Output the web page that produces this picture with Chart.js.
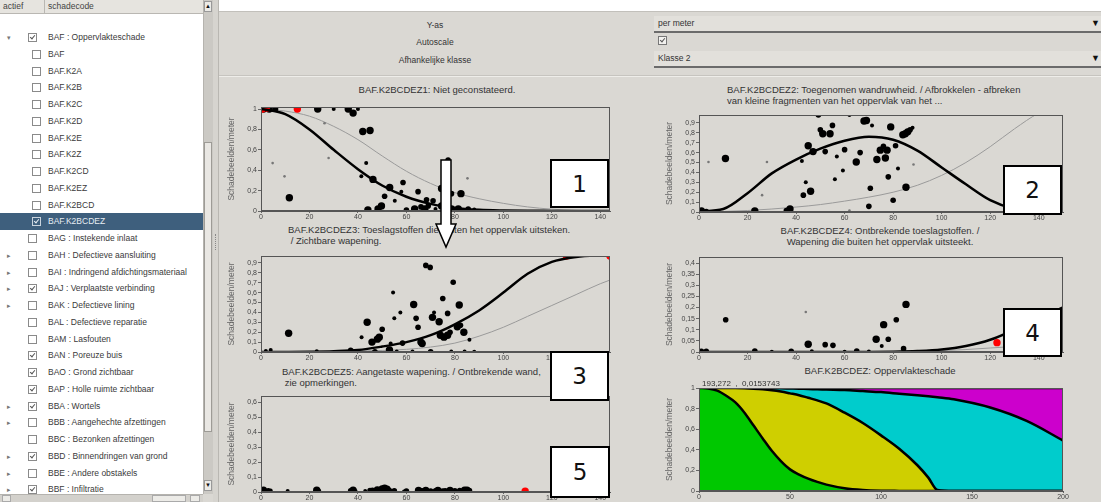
<!DOCTYPE html>
<html>
<head>
<meta charset="utf-8">
<script src="https://cdn.jsdelivr.net/npm/chart.js@4.4.1/dist/chart.umd.min.js"></script>
<style>
html,body{margin:0;padding:0}
body{width:1101px;height:502px;position:relative;overflow:hidden;background:#dad8d3;font-family:'Liberation Sans',Arial,sans-serif;color:#333}
.abs{position:absolute}
#tree{left:0;top:0;width:203px;height:494px;background:#fff;overflow:hidden}
#tree .hdr{position:absolute;left:0;top:0;width:203px;height:13px;background:#e6e4df;border-bottom:1px solid #b9b7b2;font-size:8.5px;line-height:13px;color:#444}
.row{position:absolute;left:0;width:203px;height:17px;font-size:8.5px;line-height:17px;white-space:nowrap;color:#3a3a3a}
.row.sel{background:#3e5f7d;color:#e8eef4}
.row .txt{position:absolute;left:48px;top:0}
.row .exp{position:absolute;left:7px;top:0;font-size:7px;color:#777}
.cb{position:absolute;width:7px;height:7px;border:1px solid #8a8a8a;background:#fff;top:4px}
.sel .cb{background:#3e5f7d;border-color:#c9d3dd}
.cb.on::after{content:'';position:absolute;left:2px;top:0;width:2px;height:4px;border:solid #555;border-width:0 1px 1px 0;transform:rotate(40deg)}
.sel .cb.on::after{border-color:#e8eef4}
.lab{font-size:8.5px;text-align:center;color:#333;line-height:10px}
.field{left:654px;width:447px;background:#e2e0db;border-bottom:2px solid #6b6b6b;font-size:8.5px;line-height:15px;color:#333;padding-left:4px;box-sizing:border-box}
.field .dd{position:absolute;right:1px;top:0;font-size:9px;color:#111}
.ttl{font-size:9.5px;line-height:10.5px;color:#333;white-space:nowrap}
.box{position:absolute;background:#fff;border:2px solid #000;box-sizing:border-box;font-family:'DejaVu Sans',sans-serif;font-size:23px;color:#111;display:flex;align-items:center;justify-content:center;z-index:5}
canvas{position:absolute}
</style>
</head>
<body>

<!-- left tree panel -->
<div id="tree" class="abs">
  <div class="hdr"><span style="position:absolute;left:3px">actief</span><span style="position:absolute;left:44px;top:0;width:1px;height:13px;background:#b9b7b2"></span><span style="position:absolute;left:48px">schadecode</span></div>
</div>
<!-- vertical scrollbar -->
<div class="abs" style="left:203px;top:0;width:10px;height:494px;background:#cbc9c4;border-left:1px solid #b5b3ae;box-sizing:border-box"></div>
<div class="abs" style="left:204px;top:1px;width:8px;height:11px;background:#ecebe7;border:1px solid #999;box-sizing:border-box;font-size:6px;line-height:9px;text-align:center;color:#111">&#9650;</div>
<div class="abs" style="left:204px;top:142px;width:8px;height:290px;background:#e9e7e3;border:1px solid #9d9b96;box-sizing:border-box"></div>
<div class="abs" style="left:204px;top:480px;width:8px;height:11px;background:#ecebe7;border:1px solid #999;box-sizing:border-box;font-size:6px;line-height:9px;text-align:center;color:#111">&#9660;</div>
<!-- horizontal scrollbar -->
<div class="abs" style="left:0;top:494px;width:203px;height:8px;background:#d3d1cc;border-top:1px solid #b5b3ae;box-sizing:border-box"></div>
<div class="abs" style="left:2px;top:495px;width:9px;height:7px;background:#ecebe7;border:1px solid #aaa;box-sizing:border-box"></div>
<div class="abs" style="left:152px;top:495px;width:34px;height:7px;background:#ecebe7;border:1px solid #aaa;box-sizing:border-box"></div>
<div class="abs" style="left:190px;top:495px;width:10px;height:7px;background:#ecebe7;border:1px solid #aaa;box-sizing:border-box"></div>
<!-- splitter -->
<div class="abs" style="left:213px;top:0;width:6px;height:502px;background:#d6d4cf;border-right:1px solid #b9b7b2;box-sizing:border-box"></div>
<div class="abs" style="left:215px;top:234px;width:1px;height:16px;border-left:1px dotted #888"></div>

<!-- settings strip -->
<div class="abs" style="left:219px;top:0;width:882px;height:11px;background:#fff;border-bottom:1px solid #c2c0bb"></div>
<div class="abs lab" style="left:335px;top:20px;width:200px">Y-as</div>
<div class="abs lab" style="left:335px;top:37px;width:200px">Autoscale</div>
<div class="abs lab" style="left:335px;top:55px;width:200px">Afhankelijke klasse</div>
<div class="abs field" style="top:16px;height:17px">per meter<span class="dd">&#9660;</span></div>
<div class="abs" style="left:658px;top:36px;width:9px;height:9px;border:1px solid #777;background:#f2f1ee;box-sizing:border-box"><div class="cb on" style="left:0;top:0;border:none;background:none"></div></div>
<div class="abs field" style="top:51px;height:17px">Klasse 2<span class="dd">&#9660;</span></div>
<div class="abs" style="left:219px;top:75px;width:882px;height:1px;background:#c6c4bf"></div>
<div class="abs" style="left:219px;top:76px;width:882px;height:1px;background:#eeede9"></div>

<!-- chart titles -->
<div class="abs ttl" style="left:237px;top:85px;width:400px;text-align:center">BAF.K2BCDEZ1: Niet geconstateerd.</div>
<div class="abs ttl" style="left:727px;top:85px">BAF.K2BCDEZ2: Toegenomen wandruwheid. / Afbrokkelen - afbreken<br>van kleine fragmenten van het oppervlak van het ...</div>
<div class="abs ttl" style="left:288px;top:225px">BAF.K2BCDEZ3: Toeslagstoffen die buiten het oppervlak uitsteken.<br>&nbsp;/ Zichtbare wapening.</div>
<div class="abs ttl" style="left:680px;top:226px;width:400px;text-align:center">BAF.K2BCDEZ4: Ontbrekende toeslagstoffen. /<br>Wapening die buiten het oppervlak uitsteekt.</div>
<div class="abs ttl" style="left:282px;top:367px">BAF.K2BCDEZ5: Aangetaste wapening. / Ontbrekende wand,<br>&nbsp;zie opmerkingen.</div>
<div class="abs ttl" style="left:680px;top:366px;width:400px;text-align:center">BAF.K2BCDEZ: Oppervlakteschade</div>
<div class="abs" style="left:702px;top:379px;font-size:8px;line-height:9px;color:#333;z-index:4;white-space:pre">193,272  ,  0,0153743</div>

<script>
// ---------- tree of damage codes ----------
const treeRows = [
  ['BAF : Oppervlakteschade', 0, true, 'open'],
  ['BAF', 1, false], ['BAF.K2A', 1, false], ['BAF.K2B', 1, false], ['BAF.K2C', 1, false],
  ['BAF.K2D', 1, false], ['BAF.K2E', 1, false], ['BAF.K2Z', 1, false], ['BAF.K2CD', 1, false],
  ['BAF.K2EZ', 1, false], ['BAF.K2BCD', 1, false], ['BAF.K2BCDEZ', 1, true, null, true],
  ['BAG : Instekende inlaat', 0, false],
  ['BAH : Defectieve aansluiting', 0, false, 'closed'],
  ['BAI : Indringend afdichtingsmateriaal', 0, false, 'closed'],
  ['BAJ : Verplaatste verbinding', 0, true, 'closed'],
  ['BAK : Defectieve lining', 0, false, 'closed'],
  ['BAL : Defectieve reparatie', 0, false],
  ['BAM : Lasfouten', 0, false],
  ['BAN : Poreuze buis', 0, true],
  ['BAO : Grond zichtbaar', 0, true],
  ['BAP : Holle ruimte zichtbaar', 0, true],
  ['BBA : Wortels', 0, true, 'closed'],
  ['BBB : Aangehechte afzettingen', 0, false, 'closed'],
  ['BBC : Bezonken afzettingen', 0, false],
  ['BBD : Binnendringen van grond', 0, true, 'closed'],
  ['BBE : Andere obstakels', 0, false, 'closed'],
  ['BBF : Infiltratie', 0, true, 'closed']
];
const tree = document.getElementById('tree');
treeRows.forEach((r, i) => {
  const [label, level, checked, exp, selected] = r;
  const row = document.createElement('div');
  row.className = 'row' + (selected ? ' sel' : '');
  row.style.top = (29 + i * 16.75).toFixed(1) + 'px';
  let html = '';
  if (exp) html += '<span class="exp">' + (exp === 'open' ? '&#9662;' : '&#9656;') + '</span>';
  html += '<span class="cb' + (checked ? ' on' : '') + '" style="left:' + (level ? 32 : 28) + 'px"></span>';
  html += '<span class="txt">' + label + '</span>';
  row.innerHTML = html;
  tree.appendChild(row);
});

// ---------- model data ----------
// ages at which the fitted curves are tabulated
const fitAges = [0, 10, 20, 30, 40, 50, 60, 70, 80, 90, 100, 110, 120, 130, 140, 150];

// class 1: Niet geconstateerd
const c1Fit   = [1.0, 0.95, 0.80, 0.60, 0.41, 0.25, 0.14, 0.07, 0.03, 0.012, 0.005, 0.002, 0.001, 0, 0, 0];
const c1Prior = [1.0, 0.98, 0.93, 0.83, 0.70, 0.54, 0.39, 0.27, 0.18, 0.12, 0.075, 0.04, 0.018, 0.006, 0.002, 0];
const c1Age = [1, 3.4, 6, 23.4, 30, 36, 38, 40, 42, 45, 43.4, 27.9, 4.8, 9.7, 26.2, 11.7, 46.2, 41.4, 53.1, 58.6,
  57.9, 51, 44.1, 49.7, 48.3, 55.2, 64.8, 63.4, 67.6, 68.3, 71, 74.5, 74.5, 78.6, 77.2, 78.6, 82.5, 81.4, 85.5, 85.2,
  69, 66, 60, 88, 72];
const c1Val = [1, 1, 1, 1, 1, 1, 0.96, 1, 0.78, 0.79, 0.47, 0.52, 0.47, 0.34, 0.86, 0.13, 0.31, 0.34, 0.23, 0.28,
  0.19, 0.145, 0.01, 0.05, 0.02, 0.10, 0.19, 0.02, 0.02, 0.11, 0.10, 0.22, 0.05, 0.02, 0.50, 0.17, 0.17, 0.02, 0.02, 0.32,
  0.05, 0.04, 0.01, 0.015, 0.02];
const c1Wt = [4, 4, 3, 4, 2, 4, 4, 2, 4, 4, 2, 1, 1, 1, 1, 4, 4, 2, 4, 3,
  2, 3, 4, 4, 4, 2, 3, 4, 4, 3, 3, 4, 4, 4, 3, 3, 4, 4, 3, 1,
  3, 3, 3, 2, 2];
const c1RedAge = [0.5, 2.5, 15];
const c1RedVal = [1, 1, 1];
const c1RedWt = [4, 3, 4];

// class 2: Toegenomen wandruwheid
const c2Fit   = [0.005, 0.03, 0.19, 0.39, 0.53, 0.64, 0.72, 0.76, 0.73, 0.62, 0.45, 0.28, 0.12, 0.03, 0, 0];
const c2Prior = [0, 0.005, 0.015, 0.03, 0.05, 0.075, 0.11, 0.15, 0.20, 0.27, 0.37, 0.50, 0.66, 0.84, 1.0, 1.1];
const c2Age = [10.9, 3.9, 28, 26, 1, 3, 23, 37.5, 36, 42.4, 45, 47, 44, 43, 46, 49.2, 50, 51, 52, 54,
  55, 56.8, 56, 59.3, 60, 62, 64.8, 66.4, 68, 69, 71.3, 70.6, 70, 73.3, 74.7, 76, 76.8, 77.5, 78, 79,
  81, 80, 82, 84, 85, 86, 87, 88, 85.3, 88.4, 62];
const c2Val = [0.54, 0.505, 0.505, 0.17, 0.01, 0.005, 0.01, 0.03, 0.015, 0.515, 0.67, 0.61, 0.30, 0.17, 0.21, 0.98, 0.83, 0.79, 0.61, 0.79,
  0.875, 0.56, 0.33, 0.42, 0.63, 0.98, 0.505, 0.60, 0.92, 0.925, 0.875, 0.24, 0.057, 0.53, 0.625, 0.665, 0.545, 0.625, 0.355, 0.86,
  0.67, 0.118, 0.44, 0.78, 0.79, 0.81, 0.83, 0.85, 0.25, 0.48, 0.015];
const c2Wt = [4, 1, 1, 1, 4, 3, 4, 4, 3, 2, 4, 4, 2, 3, 4, 3, 3, 4, 3, 4,
  3, 2, 2, 2, 3, 2, 4, 3, 4, 4, 2, 3, 3, 4, 4, 3, 4, 4, 3, 4,
  3, 3, 2, 4, 4, 4, 3, 2, 4, 1, 1];

// class 3: Toeslagstoffen die buiten het oppervlak uitsteken
const c3Fit   = [0, 0.001, 0.003, 0.008, 0.02, 0.055, 0.10, 0.17, 0.28, 0.42, 0.60, 0.79, 0.91, 0.96, 0.98, 0.99];
const c3Prior = [0, 0.001, 0.002, 0.005, 0.01, 0.016, 0.027, 0.05, 0.09, 0.16, 0.25, 0.36, 0.47, 0.58, 0.69, 0.78];
const c3Age = [11.4, 4, 2, 23, 37, 43.8, 45.8, 41.5, 48.8, 50, 48, 53, 53.5, 55, 57.5, 54.5, 58.4, 63, 64, 64.8,
  66, 66.5, 68, 69.8, 70.75, 71.4, 73.5, 75, 77, 74, 75.5, 77, 78, 79.3, 81, 81.8, 82.3, 83.7, 86, 62,
  40, 47, 56, 62.5, 70, 78.5, 84, 88];
const c3Val = [0.19, 0.02, 0.01, 0.007, 0.017, 0.30, 0.10, 0.15, 0.15, 0.23, 0.13, 0.02, 0.085, 0.34, 0.40, 0.60, 0.09, 0.48, 0.34, 0.25,
  0.10, 0.085, 0.875, 0.855, 0.35, 0.40, 0.305, 0.54, 0.39, 0.17, 0.15, 0.17, 0.20, 0.705, 0.255, 0.475, 0.27, 0.20, 0.125, 0.98,
  0.005, 0.003, 0.005, 0.004, 0.003, 0.005, 0.004, 0.003];
const c3Wt = [4, 2, 2, 2, 3, 4, 4, 2, 4, 3, 4, 4, 2, 2, 2, 2, 3, 4, 3, 3,
  4, 4, 3, 3, 4, 2, 4, 3, 3, 4, 4, 4, 3, 3, 4, 4, 3, 4, 2, 2,
  2, 3, 2, 2, 3, 2, 2, 2];
const c3RedAge = [126, 144];
const c3RedVal = [0.97, 0.97];
const c3RedWt = [4, 4];

// class 4: Ontbrekende toeslagstoffen
const c4Fit   = [0, 0, 0, 0, 0, 0, 0, 0, 0.001, 0.004, 0.011, 0.027, 0.055, 0.10, 0.15, 0.20];
const c4Prior = [0, 0, 0, 0, 0, 0, 0, 0, 0.001, 0.003, 0.006, 0.011, 0.018, 0.025, 0.032, 0.04];
const c4Age = [11, 44, 45, 52, 55.2, 73, 76.1, 75.3, 78, 81.3, 85.3, 84.3, 1, 3, 23, 38, 65, 46.5, 30, 60, 70];
const c4Val = [0.145, 0.18, 0.035, 0.033, 0.03, 0.057, 0.123, 0.027, 0.057, 0.145, 0.214, 0.015,
  0.003, 0.003, 0.004, 0.003, 0.004, 0.003, 0.001, 0.001, 0.002];
const c4Wt = [3, 1, 4, 3, 3, 4, 4, 2, 3, 3, 4, 3, 3, 3, 3, 3, 3, 2, 2, 2, 2];
const c4RedAge = [122.8, 150];
const c4RedVal = [0.042, 0.18];
const c4RedWt = [4, 4];

// class 5: Aangetaste wapening
const c5Age = [1, 3, 4, 11, 23, 24, 37, 38, 39, 43, 45, 46, 48, 50, 51, 52, 53, 55, 59, 60,
  65, 66, 67, 68, 70, 72, 73, 75, 76, 78, 80, 82, 84, 85, 86];
const c5Val = [0.012, 0.008, 0.01, 0.006, 0.012, 0.008, 0.008, 0.012, 0.006, 0.006, 0.01, 0.012, 0.014, 0.02, 0.025, 0.018, 0.01, 0.008, 0.004, 0.006,
  0.01, 0.008, 0.008, 0.01, 0.006, 0.008, 0.01, 0.006, 0.008, 0.01, 0.008, 0.01, 0.012, 0.012, 0.01];
const c5Wt = [4, 3, 2, 2, 4, 2, 3, 4, 2, 2, 3, 3, 4, 4, 4, 4, 3, 3, 2, 3,
  4, 3, 3, 4, 3, 3, 4, 3, 3, 4, 3, 3, 4, 4, 3];
const c5RedAge = [109];
const c5RedVal = [0.005];
const c5RedWt = [4];
const c5RedFitAge = [104, 150];
const c5RedFit = [0, 0];

// class distribution over age (cumulative share up to and including each class)
const distAges = [0, 5, 10, 15, 20, 25, 30, 35, 40, 45, 50, 55, 60, 65, 70, 80, 90, 100, 110, 120, 126, 131, 140, 160, 180, 200];
const cumK1 = [1.0, 0.995, 0.975, 0.925, 0.86, 0.76, 0.635, 0.51, 0.39, 0.29, 0.21, 0.16, 0.12, 0.088, 0.062, 0.027, 0.01, 0.003, 0.001, 0, 0, 0, 0, 0, 0, 0];
const cumK2 = [1, 1, 1, 1, 0.999, 0.997, 0.993, 0.987, 0.978, 0.965, 0.948, 0.93, 0.905, 0.88, 0.85, 0.76, 0.66, 0.54, 0.41, 0.25, 0.13, 0.01, 0, 0, 0, 0];
const cumK3 = [1, 1, 1, 1, 1, 1, 0.999, 0.999, 0.998, 0.997, 0.995, 0.993, 0.99, 0.988, 0.985, 0.98, 0.97, 0.96, 0.945, 0.93, 0.92, 0.91, 0.89, 0.81, 0.68, 0.49];
const cumK4 = [1, 1, 1, 1, 1, 1, 1, 1, 1, 1, 1, 1, 1, 1, 1, 1, 1, 1, 1, 1, 1, 1, 1, 1, 1, 1];

// ---------- drawing helpers ----------
const RADIUS = {1: 1.3, 2: 2.0, 3: 2.8, 4: 3.7};
const pts = (xs, ys) => xs.map((x, i) => ({x, y: ys[i]}));
const comma = v => String(Math.round(v * 1000) / 1000).replace('.', ',');

Chart.defaults.font.family = "'Liberation Sans', Arial, sans-serif";
Chart.defaults.color = '#444';

const framePlugin = {
  id: 'frame',
  afterDatasetsDraw(chart) {
    const a = chart.chartArea, ctx = chart.ctx;
    ctx.save();
    ctx.strokeStyle = '#555';
    ctx.lineWidth = 1;
    ctx.strokeRect(Math.round(a.left) + 0.5, Math.round(a.top) + 0.5, Math.round(a.right - a.left) - 1, Math.round(a.bottom - a.top) - 1);
    ctx.restore();
  }
};

function mount(g) {
  const c = document.createElement('canvas');
  const w = g.R - g.L + 52, h = g.B - g.T + 22;
  c.width = w; c.height = h;
  c.style.left = (g.L - 42) + 'px';
  c.style.top = (g.T - 8) + 'px';
  c.style.width = w + 'px';
  c.style.height = h + 'px';
  document.body.appendChild(c);
  return c;
}

function options(g) {
  return {
    responsive: false, animation: false, devicePixelRatio: 1,
    layout: {padding: {left: 0, top: 8, right: 10, bottom: 0}},
    plugins: {legend: {display: false}, tooltip: {enabled: false}, title: {display: false}},
    scales: {
      x: {
        type: 'linear', min: 0, max: g.xmax,
        afterFit: s => { s.height = 14; },
        ticks: {stepSize: g.xstep, includeBounds: false, font: {size: 7}, color: '#444', padding: 0, maxRotation: 0, autoSkip: false, callback: v => comma(v)},
        grid: {drawOnChartArea: false, tickLength: 2, color: '#666'},
        border: {color: '#555'}
      },
      y: {
        type: 'linear', min: 0, max: g.ymax,
        afterFit: s => { s.width = 42; },
        ticks: {stepSize: g.ystep, includeBounds: false, font: {size: 7}, color: '#444', padding: 1, autoSkip: false, callback: v => comma(v)},
        grid: {drawOnChartArea: false, tickLength: 3, color: '#666'},
        border: {color: '#555'},
        title: {display: true, text: 'Schadebeelden/meter', font: {size: 8.5}, color: '#666', padding: {top: 8, bottom: 0}}
      }
    }
  };
}

function curve(ys, color, width) {
  return {type: 'scatter', data: pts(fitAges, ys), showLine: true, pointRadius: 0, borderColor: color,
    borderWidth: width, cubicInterpolationMode: 'monotone', fill: false};
}
function dots(xs, ys, ws, color) {
  return {type: 'scatter', data: pts(xs, ys), borderWidth: 0,
    pointRadius: c => RADIUS[ws[c.dataIndex]],
    backgroundColor: c => color ? color : (ws[c.dataIndex] === 1 ? '#777' : '#000')};
}

function classChart(g, sets) {
  new Chart(mount(g), {type: 'scatter', data: {datasets: sets}, options: options(g), plugins: [framePlugin]});
}

// 1
classChart({L: 261, T: 107, R: 610, B: 211, xmax: 144, xstep: 20, ymax: 1.02, ystep: 0.2}, [
  curve(c1Fit, '#000', 2.5),
  dots(c1RedAge, c1RedVal, c1RedWt, '#ff0000'),
  dots(c1Age, c1Val, c1Wt),
  curve(c1Prior, '#9a9a9a', 1)
]);
// 2
classChart({L: 699, T: 115, R: 1063, B: 212, xmax: 150, xstep: 20, ymax: 0.98, ystep: 0.1}, [
  curve(c2Fit, '#000', 2.5),
  dots(c2Age, c2Val, c2Wt),
  curve(c2Prior, '#9a9a9a', 1)
]);
// 3
classChart({L: 261, T: 256, R: 610, B: 352, xmax: 144, xstep: 20, ymax: 0.97, ystep: 0.1}, [
  curve(c3Fit, '#000', 2.5),
  dots(c3RedAge, c3RedVal, c3RedWt, '#ff0000'),
  dots(c3Age, c3Val, c3Wt),
  curve(c3Prior, '#9a9a9a', 1)
]);
// 4
classChart({L: 699, T: 257, R: 1063, B: 352, xmax: 150, xstep: 20, ymax: 0.427, ystep: 0.05}, [
  curve(c4Fit, '#000', 2.5),
  dots(c4RedAge, c4RedVal, c4RedWt, '#ff0000'),
  dots(c4Age, c4Val, c4Wt),
  curve(c4Prior, '#9a9a9a', 1)
]);
// 5
classChart({L: 261, T: 396, R: 610, B: 492, xmax: 144, xstep: 20, ymax: 0.64, ystep: 0.1}, [
  dots(c5RedAge, c5RedVal, c5RedWt, '#ff0000'),
  {type: 'scatter', data: pts(c5RedFitAge, c5RedFit), showLine: true, pointRadius: 0, borderColor: '#ff0000', borderWidth: 1.5},
  dots(c5Age, c5Val, c5Wt)
]);

// distribution over classes
(function () {
  const g = {L: 699, T: 388, R: 1063, B: 491, xmax: 200, xstep: 50, ymax: 1, ystep: 0.2};
  const band = (ys, fillColor, fill) => ({data: pts(distAges, ys), fill: fill, backgroundColor: fillColor,
    borderColor: '#000', borderWidth: 2.5, pointRadius: 0, cubicInterpolationMode: 'monotone'});
  const opt = options(g);
  opt.plugins.filler = {propagate: false};
  new Chart(mount(g), {
    type: 'line',
    data: {datasets: [
      band(cumK1, '#00c800', 'origin'),
      band(cumK2, '#cfcf00', '-1'),
      band(cumK3, '#00cccc', '-1'),
      band(cumK4, '#cc00cc', '-1')
    ]},
    options: opt,
    plugins: [framePlugin]
  });
})();
</script>

<!-- numbered markers -->
<div class="box" style="left:550px;top:159px;width:59px;height:49px">1</div>
<div class="box" style="left:1003px;top:165px;width:59px;height:50px">2</div>
<div class="box" style="left:550px;top:351px;width:59px;height:50px">3</div>
<div class="box" style="left:1003px;top:308px;width:59px;height:49px">4</div>
<div class="box" style="left:550px;top:446px;width:60px;height:52px">5</div>
<svg class="abs" style="left:0;top:0;z-index:6" width="1101" height="502">
  <polygon points="441,160 451,160 451,224 456,224 446,247 436,224 441,224" fill="#fff" stroke="#000" stroke-width="1.5" stroke-linejoin="miter"/>
</svg>
</body>
</html>
